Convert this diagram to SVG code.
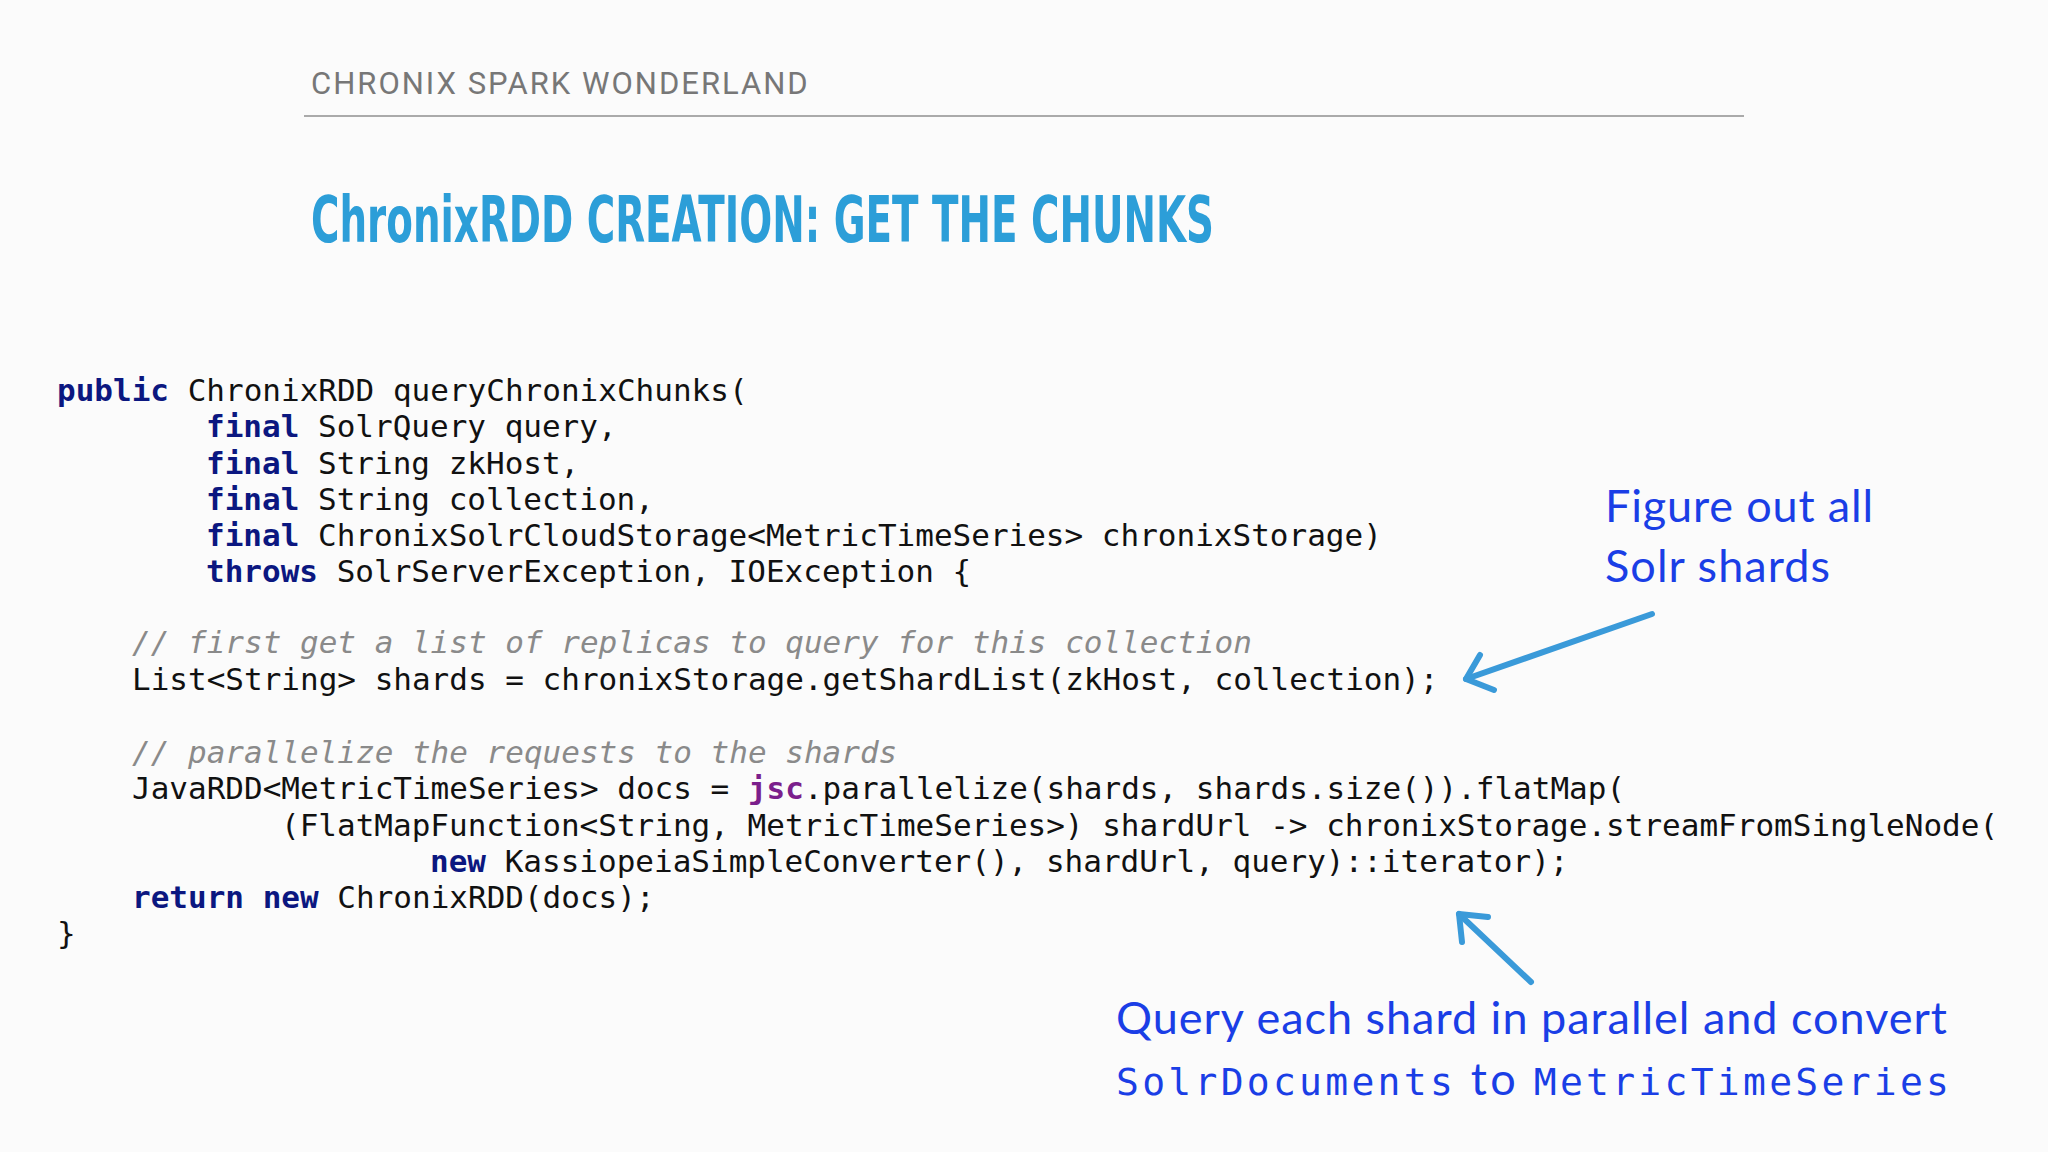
<svg xmlns="http://www.w3.org/2000/svg" width="2048" height="1152" viewBox="0 0 2048 1152">
<style>
.code{font-family:"DejaVu Sans Mono","Liberation Mono",monospace;font-size:31px;fill:#111}
.kw{fill:#0b1780;font-weight:bold}
.cm{fill:#8a8a8a;font-style:italic}
.jsc{fill:#7b1f8c;font-weight:bold}
.note{font-family:"Lato","Open Sans",sans-serif;font-size:45px;fill:#1a3ee6}
.arrow{stroke:#3a9ad9;stroke-width:6;fill:none;stroke-linecap:round;stroke-linejoin:round}
</style>
<rect width="2048" height="1152" fill="#fbfbfb"/>
<g id="header">
<text x="311" y="94" font-family="Roboto,'DejaVu Sans',sans-serif" font-size="31" fill="#777" letter-spacing="2">CHRONIX SPARK WONDERLAND</text>
<line x1="304" y1="116" x2="1744" y2="116" stroke="#aaa" stroke-width="2"/>
</g>
<g id="title">
<text x="311" y="242" font-family="'DejaVu Sans Condensed','DejaVu Sans',sans-serif" font-weight="bold" font-size="64" fill="#2c9ed8" textLength="903" lengthAdjust="spacingAndGlyphs">ChronixRDD CREATION: GET THE CHUNKS</text>
</g>
<g id="code" class="code" xml:space="preserve">
<text x="57" y="401"><tspan class="kw">public</tspan> ChronixRDD queryChronixChunks(</text>
<text x="206" y="437"><tspan class="kw">final</tspan> SolrQuery query,</text>
<text x="206" y="474"><tspan class="kw">final</tspan> String zkHost,</text>
<text x="206" y="510"><tspan class="kw">final</tspan> String collection,</text>
<text x="206" y="546"><tspan class="kw">final</tspan> ChronixSolrCloudStorage&lt;MetricTimeSeries&gt; chronixStorage)</text>
<text x="206" y="582"><tspan class="kw">throws</tspan> SolrServerException, IOException {</text>
<text x="132" y="653"><tspan class="cm">// first get a list of replicas to query for this collection</tspan></text>
<text x="132" y="690">List&lt;String&gt; shards = chronixStorage.getShardList(zkHost, collection);</text>
<text x="132" y="763"><tspan class="cm">// parallelize the requests to the shards</tspan></text>
<text x="132" y="799">JavaRDD&lt;MetricTimeSeries&gt; docs = <tspan class="jsc">jsc</tspan>.parallelize(shards, shards.size()).flatMap(</text>
<text x="281" y="836">(FlatMapFunction&lt;String, MetricTimeSeries&gt;) shardUrl -&gt; chronixStorage.streamFromSingleNode(</text>
<text x="430" y="872"><tspan class="kw">new</tspan> KassiopeiaSimpleConverter(), shardUrl, query)::iterator);</text>
<text x="132" y="908"><tspan class="kw">return</tspan> <tspan class="kw">new</tspan> ChronixRDD(docs);</text>
<text x="57" y="944">}</text>
</g>
<g id="note1">
<text class="note" x="1605" y="522" textLength="268">Figure out all</text>
<text class="note" x="1605" y="582" textLength="225">Solr shards</text>
</g>
<g id="note2">
<text class="note" x="1116" y="1034" textLength="831">Query each shard in parallel and convert</text>
<text class="note" x="1116" y="1095" textLength="833"><tspan font-family="'DejaVu Sans Mono',monospace" font-size="38">SolrDocuments</tspan> to <tspan font-family="'DejaVu Sans Mono',monospace" font-size="38">MetricTimeSeries</tspan></text>
</g>
<g id="connectors">
<path class="arrow" d="M1652 614 L1466 679"/>
<path class="arrow" d="M1466 679 L1480 655 M1466 679 L1494 690"/>
<path class="arrow" d="M1531 982 L1459 914"/>
<path class="arrow" d="M1459 914 L1462 942 M1459 914 L1488 917"/>
</g>
</svg>
